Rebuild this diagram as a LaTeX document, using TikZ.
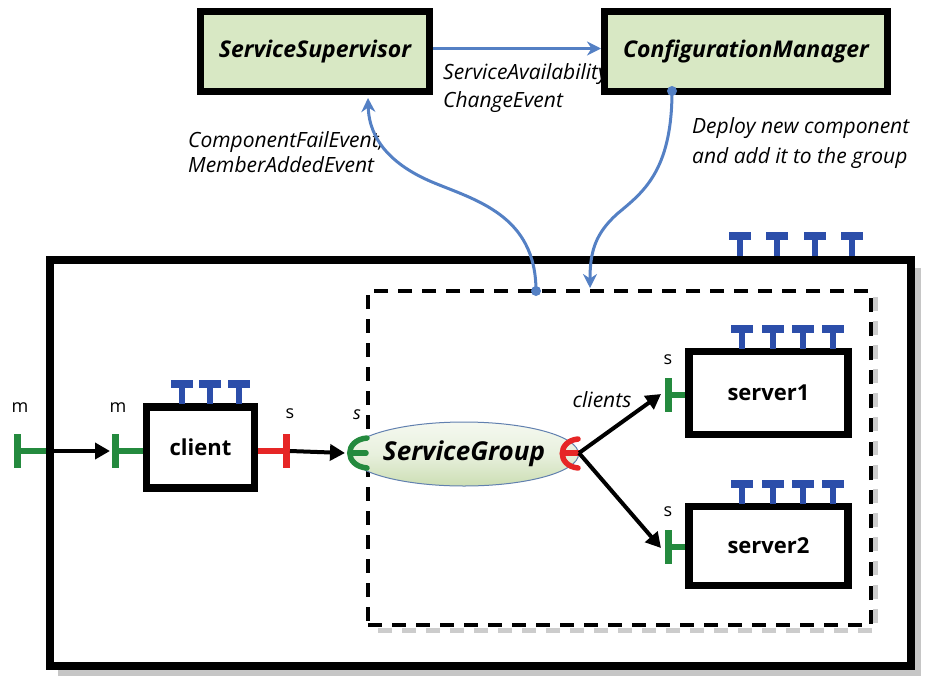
\documentclass[tikz,border=0pt]{standalone}
\usepackage{fontspec}
\setmainfont{Open Sans}
\usetikzlibrary{arrows.meta,shapes.geometric}

\definecolor{boxgreen}{RGB}{216,232,196}
\definecolor{flowblue}{RGB}{84,128,196}
\definecolor{portblue}{RGB}{44,78,170}
\definecolor{portgreen}{RGB}{36,138,62}
\definecolor{portred}{RGB}{230,38,38}
\definecolor{ellgreen}{RGB}{204,222,180}

\tikzset{
  % provided-interface tee standing on top of a component
  tee/.pic={
    \draw[line width=6pt] (0,0) -- (0,-19);
    \draw[line width=8pt] (-11,-20) -- (11,-20);
  }
}

\begin{document}
\begin{tikzpicture}[x=1pt,y=-1pt,
  mgr/.style={draw, line width=7pt, fill=boxgreen, inner sep=0pt,
    minimum height=80, font=\fontsize{23}{26}\selectfont\bfseries\itshape},
  comp/.style={draw, line width=7.5pt, fill=white, inner sep=0pt,
    font=\fontsize{22}{26}\selectfont\bfseries},
  lbl/.style={inner sep=0pt, align=left, font=\fontsize{21}{27}\selectfont\itshape},
  tag/.style={inner sep=0pt, font=\fontsize{18}{20}\selectfont},
  flow/.style={flowblue, line width=3pt, -{Stealth[length=14pt,width=14pt]}},
  wire/.style={black, line width=4pt, -{Triangle[length=15pt,width=16pt]}},
  gport/.style={portgreen, line width=7pt},
  rport/.style={portred, line width=7pt},
  sock/.style={line width=5.5pt, line cap=round},
  dot/.style={circle, fill=flowblue, inner sep=0pt, minimum size=10pt}
]
\useasboundingbox (0,0) rectangle (933,675);

% ---- enclosing system with its drop shadow ----
\draw[gray, opacity=.45, line width=8pt] (917,268) -- (917,672) -- (58,672);
\node[draw, line width=8pt, minimum width=861, minimum height=406, inner sep=0pt]
  (system) at (480.5,463) {};
\foreach \x in {740,777,815,852} \pic[portblue] at (\x,256) {tee};

% ---- service group boundary with its soft shadow ----
\draw[gray, opacity=.4, line width=5pt, dash pattern=on 14pt off 10pt]
  (875,297) -- (875,630) -- (373,630);
\node[draw, line width=3.5pt, dash pattern=on 14pt off 10pt,
  minimum width=503, minimum height=334, inner sep=0pt] (group) at (619.5,458) {};

% ---- management components ----
\node[mgr, minimum width=229] (sup) at (315,51.5) {ServiceSupervisor};
\node[lbl, anchor=base west, font=\fontsize{21}{28}\selectfont\itshape] (availlbl)
  at (443,107) {ServiceAvailability\\ChangeEvent};
\node[mgr, minimum width=283] (cfg) at (746,51.5) {ConfigurationManager};

\node[lbl, anchor=base west, font=\fontsize{21}{25}\selectfont\itshape] (faillbl)
  at (188,172) {ComponentFailEvent,\\MemberAddedEvent};
\node[lbl, anchor=base west, font=\fontsize{21}{30}\selectfont\itshape] (deploylbl)
  at (692,163) {Deploy new component\\and add it to the group};

\draw[flow] ([yshift=3pt]sup.east) -- ([yshift=3pt]cfg.west);

\node[dot] (gdot) at (536,291) {};
\node[dot] (cdot) at (672,91) {};
\coordinate (supin) at (368,98);
\coordinate (grpin) at (590,288);
\draw[flow] (gdot.center) .. controls (536,215) and (475,200) .. (432,182)
  .. controls (392,165) and (369,140) .. (supin);
\draw[flow] (cdot.center) .. controls (672,172) and (642,193) .. (617,214)
  .. controls (595,234) and (590,252) .. (grpin);

% ---- client ----
\node[comp, minimum width=108, minimum height=81] (client) at (200.5,447.5) {client};
\foreach \x in {182,210,239} \pic[portblue] at (\x,404) {tee};

% m port on the system boundary
\coordinate (sysm) at (17,451);
\draw[gport, line width=6pt] (sysm) -- (system.west |- sysm);
\draw[gport] (17,434) -- (17,468);
\node[tag] (sysmlbl) at (20,408) {m};

% m port on the client
\coordinate (clim) at (115,451);
\draw[gport, line width=6pt] (clim) -- (client.west |- clim);
\draw[gport] (115,434) -- (115,468);
\node[tag] (climlbl) at (118,408) {m};
\draw[wire] (system.west |- sysm) -- ([xshift=-5pt]clim);

% s port on the client
\coordinate (clis) at (286,451);
\draw[rport, line width=6pt] (client.east |- clis) -- (clis);
\draw[rport] (286,434) -- (286,468);
\node[tag] (clislbl) at (290,414) {s};

% ---- service group ----
\node[ellipse, minimum width=192, minimum height=64, inner sep=0pt,
  top color=white!80!ellgreen, bottom color=ellgreen, middle color=white!55!ellgreen,
  draw=flowblue!70!gray, line width=1pt,
  font=\fontsize{26}{28}\selectfont\bfseries\itshape] (sg) at (464,454) {ServiceGroup};

% s socket of the group
\coordinate (grps) at (366,453);
\draw[portgreen, sock] (367,438) .. controls (344,440) and (344,466) .. (367,468);
\draw[portgreen, sock] (351,453) -- (grps);
\node[tag, font=\fontsize{18}{20}\selectfont\itshape] (grpslbl) at (357,415) {s};
\draw[wire] ([xshift=4pt]clis) -- (345,453);

% clients socket of the group
\coordinate (grpc) at (579,453);
\draw[portred, sock] (578,439) .. controls (557,441) and (557,466) .. (578,468);
\draw[portred, sock] (564,453) -- (grpc);

% ---- servers ----
\node[comp, minimum width=159, minimum height=83] (s1) at (768.5,393) {server1};
\foreach \x in {742,773,803,833} \pic[portblue] at (\x,349) {tee};
\node[comp, minimum width=159, minimum height=79] (s2) at (768.5,546) {server2};
\foreach \x in {742,773,803,833} \pic[portblue] at (\x,504) {tee};

\coordinate (s1p) at (668,395);
\draw[gport, line width=6pt] (s1p) -- (s1.west |- s1p);
\draw[gport] (668,378) -- (668,412);
\node[tag] (s1lbl) at (668,360) {s};

\coordinate (s2p) at (668,547);
\draw[gport, line width=6pt] (s2p) -- (s2.west |- s2p);
\draw[gport] (668,530) -- (668,564);
\node[tag] (s2lbl) at (668,512) {s};

\draw[wire] (grpc) -- ([xshift=-7pt,yshift=1pt]s1p);
\draw[wire] (grpc) -- ([xshift=-7pt,yshift=-1pt]s2p);
\node[lbl] (clientslbl) at (602,400) {clients};
\end{tikzpicture}
\end{document}
